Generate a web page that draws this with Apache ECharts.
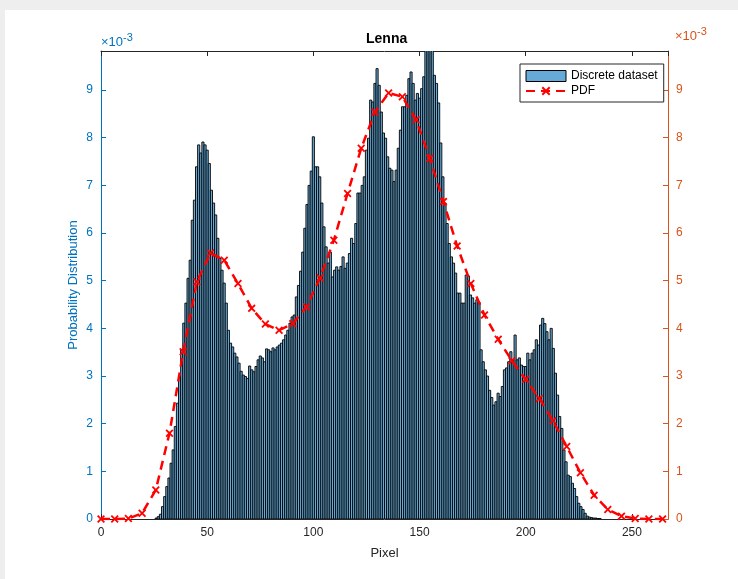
<!DOCTYPE html>
<html><head><meta charset="utf-8">
<script src="https://cdn.jsdelivr.net/npm/echarts@6/dist/echarts.min.js"></script>
<style>html,body{margin:0;padding:0;background:#fff}#c{width:738px;height:579px}</style>
</head><body><div id="c"></div>
<script>
// Histogram of pixel levels 0..255 (index = pixel level), values in units of 1e-3
const histogram = [
0,0,0,0,0,0,0,0,0,0,0,0,0,0,0,0,0,0,0,0,0,0,0,0,0,0,
0.02,0.05,0.1,0.26,0.47,0.68,0.86,1.17,1.45,1.94,2.43,2.99,3.55,4.11,4.53,5.05,5.43,6.27,6.69,7.39,7.85,7.68,7.91,7.85,7.74,7.46,6.90,6.63,6.38,5.89,5.47,5.22,4.95,4.53,3.96,3.69,3.61,3.48,
3.4,3.27,3.1,3.02,2.99,2.95,3.21,3.13,3.09,3.2,3.34,3.42,3.38,3.3,3.57,3.55,3.51,3.59,3.55,3.61,3.65,3.69,3.76,3.86,3.96,4.11,4.24,4.28,4.66,4.9,5.2,5.6,6.1,6.6,7.0,7.3,8.02,7.39,7.39,7.18,6.63,6.13,5.71,5.37,
5.6,5.08,5.22,5.29,5.22,5.3,5.50,5.26,5.37,5.57,5.89,5.78,6.20,6.84,6.84,7.0,7.18,7.74,7.99,8.79,8.75,9.14,9.45,9.10,8.54,8.10,7.99,7.60,7.36,7.32,7.08,7.32,7.78,8.16,8.65,8.65,8.89,9.24,9.38,9.14,8.79,8.93,
8.83,9.03,9.28,9.9,9.9,9.9,9.9,9.31,9.14,8.73,7.89,7.18,6.63,6.20,5.78,5.50,5.37,5.16,4.74,4.74,4.53,4.53,5.12,5.1,4.70,4.64,4.53,4.6,4.55,3.55,3.3,3.13,3.0,2.7,2.55,2.39,2.46,2.64,2.57,2.78,3.13,3.17,3.30,3.51,3.34,3.86,3.34,3.38,3.23,3.20,
3.2,3.48,3.34,3.48,3.55,3.76,3.65,4.07,4.21,4.10,3.93,3.76,4.0,3.58,3.06,2.6,2.15,1.90,1.45,1.20,0.92,0.89,0.75,0.64,0.47,0.33,0.26,0.20,0.12,0.06,0.04,0.03,0.02,0.02,0.01,0.01,
0,0,0,0,0,0,0,0,0,0,0,0,0,0,0,0,0,0,0,0
];
const pdfX = [0,6.45,12.9,19.35,25.8,32.25,38.7,45.15,51.6,58.05,64.5,70.95,77.4,83.85,90.3,96.75,103.2,109.65,116.1,122.55,129,135.45,141.9,148.35,154.8,161.25,167.7,174.15,180.6,187.05,193.5,199.95,206.4,212.85,219.3,225.75,232.2,238.65,245.1,251.55,258,264.45];
const pdfY = [0,0,0.01,0.12,0.61,1.80,3.51,4.98,5.58,5.43,4.94,4.42,4.09,3.96,4.10,4.45,5.06,5.85,6.83,7.78,8.54,8.94,8.86,8.38,7.57,6.66,5.73,4.94,4.28,3.77,3.32,2.93,2.53,2.06,1.52,0.97,0.50,0.20,0.06,0.01,0,0];
const xRange = [0, 267];
const yRange = [0, 9.82];
const seriesNames = ['Discrete dataset', 'PDF'];
const titleText = 'Lenna';
const xName = 'Pixel';
const yName = 'Probability Distribution';

const FONT = 'Liberation Sans, Arial, Helvetica, sans-serif';
const BLUE = '#0072BD', ORANGE = '#D95319', DARK = '#262626';
const BARFILL = '#66AAD7';
const crossPath = 'path://M0,1.6L1.6,0L5,3.4L8.4,0L10,1.6L6.6,5L10,8.4L8.4,10L5,6.6L1.6,10L0,8.4L3.4,5Z';

const chart = echarts.init(document.getElementById('c'), null, {renderer: 'canvas'});
const grid = {left: 101, right: 70, top: 51, bottom: 60};

function yAxisCfg(pos, color, withName) {
  return {
    type: 'value', position: pos, min: yRange[0], max: yRange[1], interval: 1,
    axisLine: {show: true, onZero: false, lineStyle: {color: color, width: 1}},
    axisTick: {show: true, inside: true, length: 5, lineStyle: {color: color}},
    axisLabel: {color: color, fontSize: 12, fontFamily: FONT, margin: 8, showMaxLabel: false},
    splitLine: {show: false},
    name: withName ? yName : '', nameLocation: 'middle', nameGap: 21, nameMoveOverlap: false,
    nameTextStyle: {color: color, fontSize: 13, fontFamily: FONT}
  };
}

chart.setOption({
  backgroundColor: '#ffffff',
  animation: false,
  grid: grid,
  graphic: [
    {type: 'rect', shape: {x: 0, y: 0, width: 738, height: 10}, style: {fill: '#eeeeee'}, z: -10, silent: true},
    {type: 'rect', shape: {x: 0, y: 0, width: 5, height: 579}, style: {fill: '#eeeeee'}, z: -10, silent: true},
    {type: 'text', left: 366, top: 32, style: {text: titleText, fill: '#000', font: 'bold 14px ' + FONT}},
    {type: 'text', left: 101, top: 32, style: {text: '×10{s|-3}', fill: BLUE, font: '13px ' + FONT,
      rich: {s: {fontSize: 11, verticalAlign: 'top', padding: [0,0,9,0], fill: BLUE, fontFamily: FONT}}}},
    {type: 'text', left: 675, top: 26, style: {text: '×10{s|-3}', fill: ORANGE, font: '13px ' + FONT,
      rich: {s: {fontSize: 11, verticalAlign: 'top', padding: [0,0,9,0], fill: ORANGE, fontFamily: FONT}}}}
  ],
  legend: {
    orient: 'vertical', left: 520, top: 64,
    backgroundColor: '#fff', borderColor: DARK, borderWidth: 1, borderRadius: 0,
    padding: [6, 6, 5, 5], itemWidth: 40, itemHeight: 11, itemGap: 3,
    textStyle: {fontSize: 12, fontFamily: FONT, color: '#000'},
    data: [
      {name: seriesNames[0], icon: 'rect', itemStyle: {color: BARFILL, borderColor: '#000', borderWidth: 1}},
      {name: seriesNames[1]}
    ]
  },
  xAxis: [
    {type: 'value', position: 'bottom', min: xRange[0], max: xRange[1], interval: 50,
     axisLine: {show: true, onZero: false, lineStyle: {color: DARK, width: 1}},
     axisTick: {show: true, inside: true, length: 5, lineStyle: {color: DARK}},
     axisLabel: {color: DARK, fontSize: 12, fontFamily: FONT, margin: 8, showMaxLabel: false},
     splitLine: {show: false},
     name: xName, nameLocation: 'middle', nameGap: 28,
     nameTextStyle: {color: DARK, fontSize: 13, fontFamily: FONT}},
    {type: 'value', position: 'top', min: xRange[0], max: xRange[1], interval: 50,
     axisLine: {show: true, onZero: false, lineStyle: {color: DARK, width: 1}},
     axisTick: {show: true, inside: true, length: 5, lineStyle: {color: DARK}},
     axisLabel: {show: false}, splitLine: {show: false}}
  ],
  yAxis: [yAxisCfg('left', BLUE, true), yAxisCfg('right', ORANGE, false)],
  series: [
    {
      name: seriesNames[0], type: 'custom', xAxisIndex: 0, yAxisIndex: 0, clip: true,
      itemStyle: {color: BARFILL, borderColor: '#000'},
      encode: {x: 0, y: 1},
      data: histogram.map((v, i) => [i, v]),
      renderItem: function (params, api) {
        const x = api.value(0), y = api.value(1);
        if (!(y > 0)) return null;
        const p0 = api.coord([x - 0.5, y]);
        const p1 = api.coord([x + 0.5, 0]);
        return {type: 'rect', shape: {x: p0[0], y: p0[1], width: p1[0] - p0[0], height: p1[1] - p0[1]},
          style: {fill: BARFILL, stroke: '#000', lineWidth: 0.9}};
      },
      z: 2
    },
    {
      name: seriesNames[1], type: 'line', xAxisIndex: 0, yAxisIndex: 1,
      data: pdfX.map((x, i) => [x, pdfY[i]]),
      symbol: crossPath, symbolSize: 8, showAllSymbol: true,
      lineStyle: {color: '#FF0000', width: 2.5, type: [9, 6]},
      itemStyle: {color: '#FF0000'},
      z: 5
    }
  ]
});
</script>
</body></html>
